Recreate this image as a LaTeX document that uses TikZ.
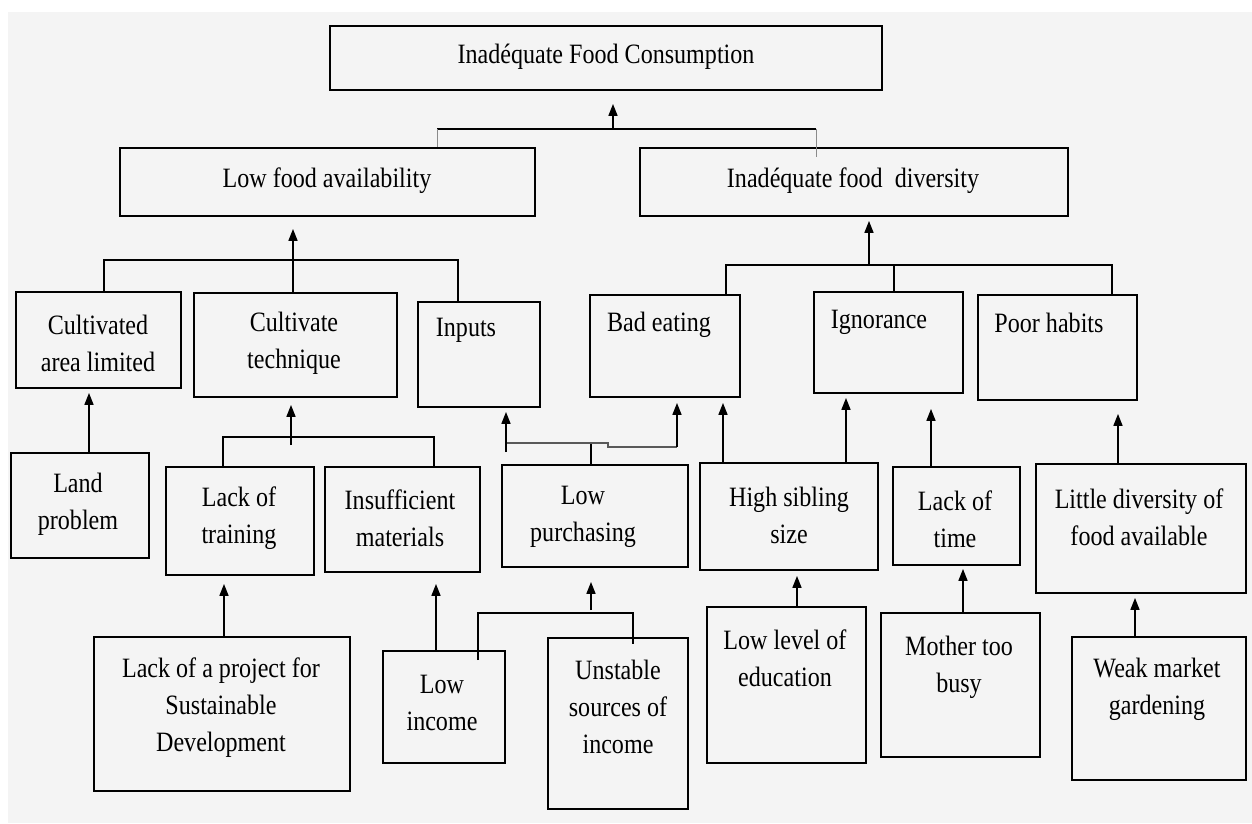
\documentclass[tikz,border=0pt]{standalone}
\usepackage{fontspec}
\setmainfont{Liberation Serif}[FakeStretch=0.86]
\usetikzlibrary{arrows.meta}
\definecolor{paper}{HTML}{F4F4F4}
\definecolor{faintline}{HTML}{8A8A8A}

\begin{document}
\begin{tikzpicture}[x=1pt,y=-1pt,
  box/.style={draw, line width=1.8pt, inner sep=0pt},
  txt/.style={align=center, inner sep=0pt, font=\fontsize{28}{37}\selectfont},
  link/.style={line width=1.6pt},
  thinlink/.style={faintline, line width=0.8pt},
  arr/.style={line width=1.6pt, -{Triangle[length=12pt,width=9pt]}}]

\useasboundingbox (0,0) rectangle (1252,823);
\fill[paper] (8,12) rectangle (1252,823);

% boxes
\node[box, minimum width=552, minimum height=64] (consum) at (606,58) {};
\node[box, minimum width=415, minimum height=68] (avail) at (327.5,182) {};
\node[box, minimum width=428, minimum height=68] (divers) at (854,182) {};
\node[box, minimum width=165, minimum height=96] (cultarea) at (98.5,340) {};
\node[box, minimum width=203, minimum height=104] (technique) at (295.5,345) {};
\node[box, minimum width=122, minimum height=105] (inputs) at (479,354.5) {};
\node[box, minimum width=150, minimum height=102] (badeat) at (665,346) {};
\node[box, minimum width=149, minimum height=101] (ignor) at (888.5,342.5) {};
\node[box, minimum width=159, minimum height=105] (habits) at (1057.5,347.5) {};
\node[box, minimum width=138, minimum height=105] (land) at (80,505.5) {};
\node[box, minimum width=148, minimum height=108] (training) at (240,521) {};
\node[box, minimum width=155, minimum height=105] (materials) at (402.5,519.5) {};
\node[box, minimum width=186, minimum height=102] (purchasing) at (595,516) {};
\node[box, minimum width=178, minimum height=107] (sibling) at (789,516.5) {};
\node[box, minimum width=127, minimum height=98] (time) at (956.5,516) {};
\node[box, minimum width=210, minimum height=129] (littlediv) at (1141,528.5) {};
\node[box, minimum width=256, minimum height=154] (project) at (222,714) {};
\node[box, minimum width=122, minimum height=112] (income) at (444,707) {};
\node[box, minimum width=140, minimum height=171] (unstable) at (618,723.5) {};
\node[box, minimum width=159, minimum height=156] (education) at (786.5,685) {};
\node[box, minimum width=159, minimum height=144] (mother) at (960.5,685) {};
\node[box, minimum width=174, minimum height=143] (gardening) at (1159,708.5) {};

% labels
\node[txt] (t-consum) at (606,57) {Inadéquate Food Consumption};
\node[txt] (t-avail) at (327,181) {Low food availability};
\node[txt] (t-divers) at (853,181) {Inadéquate food\ \ diversity};
\node[txt] (t-cultarea) at (98,343) {Cultivated\\area limited};
\node[txt] (t-technique) at (294,343) {Cultivate\\technique};
\node[txt] (t-inputs) at (466,330) {Inputs};
\node[txt] (t-badeat) at (659,325) {Bad eating};
\node[txt] (t-ignor) at (879,322) {Ignorance};
\node[txt] (t-habits) at (1049,323) {Poor habits};
\node[txt] (t-land) at (78,504) {Land\\problem};
\node[txt] (t-training) at (239,518) {Lack of\\training};
\node[txt] (t-materials) at (400,518) {Insufficient\\materials};
\node[txt] (t-purchasing) at (583,517) {Low\\purchasing};
\node[txt] (t-sibling) at (789,515) {High sibling\\size};
\node[txt] (t-time) at (955,519) {Lack of\\time};
\node[txt] (t-littlediv) at (1139,517) {Little diversity of\\food available};
\node[txt] (t-project) at (221,708) {Lack of a project for\\Sustainable\\Development};
\node[txt] (t-income) at (442,703) {Low\\income};
\node[txt] (t-unstable) at (618,707) {Unstable\\sources of\\income};
\node[txt] (t-education) at (785,658) {Low level of\\education};
\node[txt] (t-mother) at (959,667) {Mother too\\busy};
\node[txt] (t-gardening) at (1157,689) {Weak market\\gardening};

% top level
\coordinate (barL) at (437,129);
\coordinate (barR) at (816,129);
\coordinate (topUp) at (613,129);
\draw[link] (barL) -- (barR);
\draw[thinlink] (barL) -- (avail.north -| barL);
\draw[thinlink] (barR) -- ([yshift=-10pt]divers.north -| barR);
\draw[arr, shorten >=13pt] (topUp) -- (consum.south -| topUp);

% low food availability
\coordinate (availL) at (104,260);
\coordinate (availR) at (458,260);
\draw[link] (cultarea.north -| availL) -- (availL) -- (availR) -- (inputs.north -| availR);
\draw[arr, shorten >=12pt] (technique.north -| 293,0) -- (avail.south -| 293,0);

% food diversity
\coordinate (diversL) at (726,265);
\coordinate (diversM) at (894,265);
\coordinate (diversR) at (1112,265);
\coordinate (diversUp) at (869,265);
\draw[link] (badeat.north -| diversL) -- (diversL) -- (diversR) -- (habits.north -| diversR);
\draw[link] (diversM) -- (ignor.north -| diversM);
\draw[arr, shorten >=4pt] (diversUp) -- (divers.south -| diversUp);

% second row
\draw[arr, shorten >=4pt] (land.north -| 89,0) -- (cultarea.south -| 89,0);
\coordinate (techL) at (223,437);
\coordinate (techR) at (434,437);
\coordinate (techUp) at (291,445);
\draw[link] (training.north -| techL) -- (techL) -- (techR) -- (materials.north -| techR);
\draw[arr, shorten >=7pt] (techUp) -- (technique.south -| techUp);

\coordinate (inL) at (506,452);
\coordinate (inStep) at (608,443);
\coordinate (inR) at (677,447);
\draw[link] (purchasing.north -| 591,0) -- (591,0 |- inStep);
\draw[link, black!65] (inL |- inStep) -- (inStep) -- (inStep |- inR) -- (inR);
\draw[arr, shorten >=4pt] (inL) -- (inputs.south -| inL);
\draw[arr, shorten >=5pt] (inR) -- (badeat.south -| inR);

\draw[arr, shorten >=5pt] (sibling.north -| 723,0) -- (badeat.south -| 723,0);
\draw[arr, shorten >=4pt] (sibling.north -| 846,0) -- (ignor.south -| 846,0);
\draw[arr, shorten >=15pt] (time.north -| 931,0) -- (ignor.south -| 931,0);
\draw[arr, shorten >=13pt] (littlediv.north -| 1118,0) -- (habits.south -| 1118,0);

% third row
\draw[arr, shorten >=8pt] (project.north -| 224,0) -- (training.south -| 224,0);
\draw[arr, shorten >=11pt] (income.north -| 436,0) -- (materials.south -| 436,0);
\coordinate (purL) at (478,613);
\coordinate (purR) at (633,613);
\coordinate (purUp) at (591,610);
\draw[link] ([yshift=-10pt]income.north -| purL) -- (purL) -- (purR) -- ([yshift=-7pt]unstable.north -| purR);
\draw[arr, shorten >=14pt] (purUp) -- (purchasing.south -| purUp);
\draw[arr, shorten >=5pt] (education.north -| 797,0) -- (sibling.south -| 797,0);
\draw[arr, shorten >=3pt] (mother.north -| 963,0) -- (time.south -| 963,0);
\draw[arr, shorten >=4pt] (gardening.north -| 1135,0) -- (littlediv.south -| 1135,0);
\end{tikzpicture}
\end{document}
